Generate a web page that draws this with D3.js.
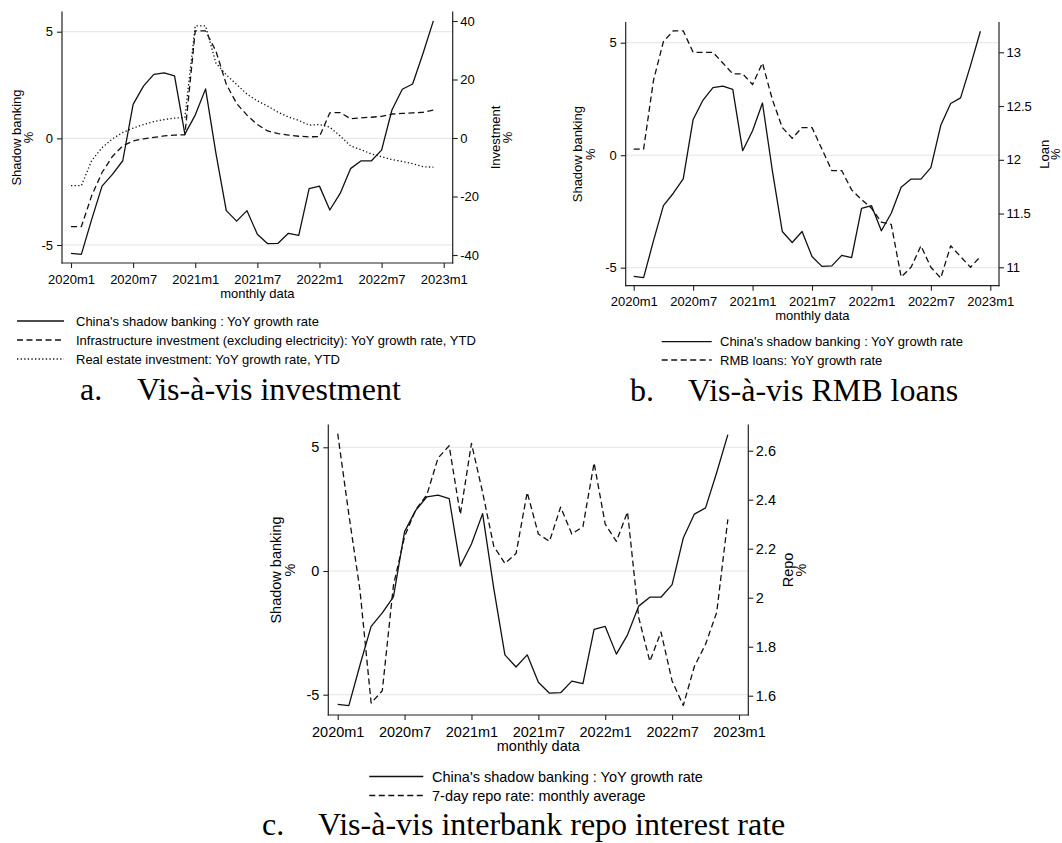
<!DOCTYPE html>
<html>
<head>
<meta charset="utf-8">
<script src="https://cdn.jsdelivr.net/npm/d3@7"></script>
<style>
html, body { margin: 0; padding: 0; background: #fff; }
svg { display: block; }
</style>
</head>
<body>
<svg id="chart" width="1062" height="843"></svg>
<script>
// month index: 0 = 2020m1 ... 35 = 2022m12
const xTickMonths = [0, 6, 12, 18, 24, 30, 36];
const xTickLabels = ["2020m1", "2020m7", "2021m1", "2021m7", "2022m1", "2022m7", "2023m1"];

// China's shadow banking : YoY growth rate (%)
const shadowBanking = [-5.39, -5.44, -3.8, -2.24, -1.69, -1.05, 1.59, 2.45, 3.0, 3.07, 2.93, 0.2,
  1.09, 2.32, -0.7, -3.39, -3.88, -3.39, -4.5, -4.94, -4.92, -4.45, -4.55, -2.36,
  -2.24, -3.36, -2.58, -1.42, -1.06, -1.06, -0.55, 1.33, 2.30, 2.55, 3.98, 5.51];
// Infrastructure investment (excl. electricity): YoY growth rate, YTD (%)
const infraInvest = [-30.3, -30.3, -19.7, -11.8, -6.3, -2.7, -1.0, -0.3, 0.2, 0.7, 1.0, 1.1,
  36.6, 36.6, 29.7, 18.4, 11.8, 7.8, 4.6, 2.4, 1.5, 1.0, 0.6, 0.4,
  0.5, 8.6, 8.7, 6.6, 6.9, 7.1, 7.4, 8.2, 8.4, 8.6, 8.8, 9.5];
// Real estate investment: YoY growth rate, YTD (%)
const realEstateInvest = [-16.3, -16.3, -7.7, -3.3, -0.3, 1.9, 3.4, 4.6, 5.6, 6.3, 6.8, 7.0,
  38.3, 38.3, 25.6, 21.6, 18.3, 15.0, 12.7, 10.9, 8.8, 7.2, 6.0, 4.4,
  4.6, 3.7, 0.7, -2.7, -4.0, -5.4, -6.4, -7.4, -8.0, -8.8, -9.8, -10.0];
// RMB loans: YoY growth rate (%)
const rmbLoans = [12.1, 12.1, 12.74, 13.1, 13.2, 13.2, 13.0, 13.0, 13.0, 12.9, 12.8, 12.8,
  12.7, 12.9, 12.56, 12.3, 12.2, 12.3, 12.3, 12.1, 11.9, 11.9, 11.72, 11.63,
  11.55, 11.42, 11.4, 10.91, 11.0, 11.2, 11.0, 10.9, 11.2, 11.1, 11.0, 11.1];
// 7-day repo rate: monthly average (%)
const repoRate = [2.67, 2.34, 2.03, 1.57, 1.62, 2.05, 2.25, 2.36, 2.42, 2.57, 2.62, 2.34,
  2.63, 2.43, 2.21, 2.14, 2.18, 2.43, 2.26, 2.23, 2.37, 2.26, 2.29, 2.55,
  2.30, 2.23, 2.35, 1.92, 1.74, 1.86, 1.66, 1.56, 1.72, 1.81, 1.94, 2.32];

const shadowTicks = [-5, 0, 5];
const investTicks = [-40, -20, 0, 20, 40];
const loanTicks = [11, 11.5, 12, 12.5, 13];
const repoTicks = [1.6, 1.8, 2, 2.2, 2.4, 2.6];

const SANS = "'Liberation Sans', Arial, sans-serif";
const SERIF = "'Liberation Serif', 'Times New Roman', serif";
const INK = "#111";
const DASH = "6,3.5";
const DOT = "1.3,2.3";

const svg = d3.select("#chart");

const panels = [
  {
    box: { left: 62, right: 452.7, top: 12, bottom: 263 },
    xr: [71, 443.7], yl: [245, 31.7], rDom: [-40, 40], rRange: [255, 21], rTicks: investTicks,
    fs: 13, tickPad: 6.5,
    yTitle: [20.5, 32.5], rTitle: "Investment", rTitleX: [499.5, 511.5], xTitleY: 297.5,
    series: [
      { values: shadowBanking, axis: "L", dash: null, name: "China's shadow banking : YoY growth rate" },
      { values: infraInvest, axis: "R", dash: DASH, name: "Infrastructure investment (excluding electricity): YoY growth rate, YTD" },
      { values: realEstateInvest, axis: "R", dash: DOT, name: "Real estate investment: YoY growth rate, YTD" }
    ],
    legend: { rows: [321, 340, 359], x1: 17, x2: 64, tx: 76 },
    caption: { lx: 80, tx: 137, y: 400, label: "a.", text: "Vis-à-vis investment" }
  },
  {
    box: { left: 625.7, right: 999, top: 22.7, bottom: 285.7 },
    xr: [633.7, 990.3], yl: [267.7, 42.7], rDom: [11, 13], rRange: [267.3, 52.3], rTicks: loanTicks,
    fs: 13, tickPad: 6.5,
    yTitle: [582, 594.5], rTitle: "Loan", rTitleX: [1048.5, 1060], xTitleY: 319.5,
    series: [
      { values: shadowBanking, axis: "L", dash: null, name: "China's shadow banking : YoY growth rate" },
      { values: rmbLoans, axis: "R", dash: DASH, name: "RMB loans: YoY growth rate" }
    ],
    legend: { rows: [341.7, 360], x1: 661.7, x2: 711.7, tx: 720 },
    caption: { lx: 630, tx: 688, y: 401, label: "b.", text: "Vis-à-vis RMB loans" }
  },
  {
    box: { left: 328.3, right: 748.3, top: 425, bottom: 715 },
    xr: [337.7, 739], yl: [694.7, 447.3], rDom: [1.6, 2.6], rRange: [695.7, 450.7], rTicks: repoTicks,
    fs: 14.5, tickPad: 6.4,
    yTitle: [280.5, 295], rTitle: "Repo", rTitleX: [793, 806], xTitleY: 751,
    series: [
      { values: shadowBanking, axis: "L", dash: null, name: "China's shadow banking : YoY growth rate" },
      { values: repoRate, axis: "R", dash: DASH, name: "7-day repo rate: monthly average" }
    ],
    legend: { rows: [776.5, 795.5], x1: 369.3, x2: 423.3, tx: 432 },
    caption: { lx: 262, tx: 318, y: 835, label: "c.", text: "Vis-à-vis interbank repo interest rate" }
  }
];

function drawPanel(p) {
  const g = svg.append("g");
  const b = p.box;
  const x = d3.scaleLinear().domain([0, 36]).range(p.xr);
  const yL = d3.scaleLinear().domain([-5, 5]).range(p.yl);
  const yR = d3.scaleLinear().domain(p.rDom).range(p.rRange);
  const midY = (b.top + b.bottom) / 2;

  // gridlines at left-axis ticks
  g.append("g").selectAll("line").data(shadowTicks).join("line")
    .attr("x1", b.left).attr("x2", b.right)
    .attr("y1", d => yL(d)).attr("y2", d => yL(d))
    .attr("stroke", "#e4e4e4").attr("stroke-width", 1);

  // series
  p.series.forEach(s => {
    const y = s.axis === "L" ? yL : yR;
    const line = d3.line().x((d, i) => x(i)).y(d => y(d));
    g.append("path").datum(s.values)
      .attr("d", line)
      .attr("fill", "none")
      .attr("stroke", INK)
      .attr("stroke-width", 1.3)
      .attr("stroke-linejoin", "round")
      .attr("stroke-dasharray", s.dash);
  });

  // axes
  const styleAxis = a => {
    a.select(".domain").remove();
    a.attr("font-family", SANS).attr("font-size", p.fs).style("color", "#222");
    a.selectAll(".tick line").attr("stroke-width", 1.1);
    a.selectAll("text").attr("fill", "#000");
  };
  g.append("g").attr("transform", `translate(${b.left},0)`)
    .call(d3.axisLeft(yL).tickValues(shadowTicks).tickSize(5).tickPadding(4).tickFormat(d => String(d)))
    .call(styleAxis);
  g.append("g").attr("transform", `translate(${b.right},0)`)
    .call(d3.axisRight(yR).tickValues(p.rTicks).tickSize(5).tickPadding(2.5).tickFormat(d => String(d)))
    .call(styleAxis);
  g.append("g").attr("transform", `translate(0,${b.bottom})`)
    .call(d3.axisBottom(x).tickValues(xTickMonths).tickSize(5).tickPadding(p.tickPad)
      .tickFormat((d, i) => xTickLabels[i]))
    .call(styleAxis);

  // axis lines (left, right, bottom)
  const frame = [
    [b.left, b.top, b.left, b.bottom],
    [b.right, b.top, b.right, b.bottom],
    [b.left, b.bottom, b.right, b.bottom]
  ];
  g.append("g").selectAll("line").data(frame).join("line")
    .attr("x1", d => d[0]).attr("y1", d => d[1]).attr("x2", d => d[2]).attr("y2", d => d[3])
    .attr("stroke", "#222").attr("stroke-width", 1.2).attr("stroke-linecap", "square");

  // titles
  const txt = (sel) => sel.attr("font-family", SANS).attr("font-size", p.fs).attr("fill", "#000");
  g.append("text").call(txt).attr("text-anchor", "middle")
    .attr("transform", `translate(${p.yTitle[0]},${midY}) rotate(-90)`).text("Shadow banking");
  g.append("text").call(txt).attr("text-anchor", "middle")
    .attr("transform", `translate(${p.yTitle[1]},${midY}) rotate(-90)`).text("%");
  g.append("text").call(txt).attr("text-anchor", "middle")
    .attr("transform", `translate(${p.rTitleX[0]},${midY}) rotate(-90)`).text(p.rTitle);
  g.append("text").call(txt).attr("text-anchor", "middle")
    .attr("transform", `translate(${p.rTitleX[1]},${midY}) rotate(-90)`).text("%");
  g.append("text").call(txt).attr("text-anchor", "middle")
    .attr("x", (b.left + b.right) / 2).attr("y", p.xTitleY).text("monthly data");

  // legend
  const lg = p.legend;
  p.series.forEach((s, i) => {
    const yy = lg.rows[i];
    g.append("line").attr("x1", lg.x1).attr("x2", lg.x2).attr("y1", yy).attr("y2", yy)
      .attr("stroke", INK).attr("stroke-width", 1.3).attr("stroke-dasharray", s.dash);
    g.append("text").call(txt).attr("x", lg.tx).attr("y", yy).attr("dy", "0.35em").text(s.name);
  });

  // caption
  const c = p.caption;
  g.append("text").attr("font-family", SERIF).attr("font-size", 32).attr("fill", "#000")
    .attr("x", c.lx).attr("y", c.y).text(c.label);
  g.append("text").attr("font-family", SERIF).attr("font-size", 32).attr("fill", "#000")
    .attr("x", c.tx).attr("y", c.y).text(c.text);
}

panels.forEach(drawPanel);
</script>
</body>
</html>
